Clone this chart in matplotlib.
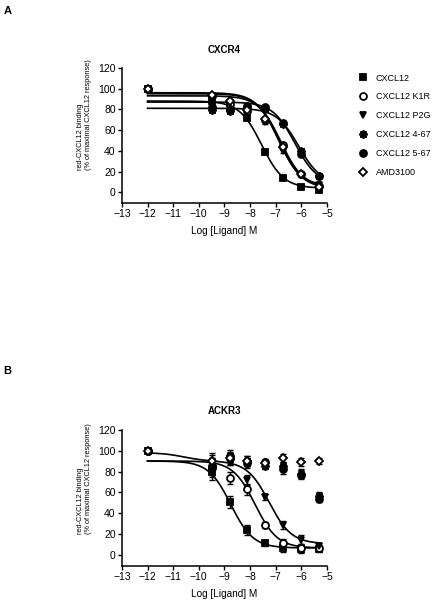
import numpy as np
import matplotlib
matplotlib.use("Agg")
import matplotlib.pyplot as plt

plt.rcParams['font.family'] = ['Liberation Sans', 'DejaVu Sans']

# log concentrations used in both assays
conc = [-12, -9.5, -8.8, -8.1, -7.4, -6.7, -6.0, -5.3]

names = ['CXCL12', 'CXCL12 K1R', 'CXCL12 P2G', 'CXCL12 4-67', 'CXCL12 5-67', 'AMD3100']

# CXCR4 binding (% of maximal response)
cxcr4_cxcl12 = [100, 88, 86, 72, 39, 14, 5, 2]
cxcr4_k1r = [100, 93, 85, 78, 70, 46, 18, 6]
cxcr4_p2g = [100, 90, 86, 80, 68, 40, 17, 7]
cxcr4_467 = [100, 79, 78, 82, 80, 66, 40, 16]
cxcr4_567 = [100, 82, 80, 83, 82, 67, 37, 16]
cxcr4_amd = [100, 94, 88, 79, 71, 44, 18, 5]
cxcr4_err = [1, 2, 2, 2, 2, 2, 2, 1]

# ACKR3 binding (% of maximal response)
ackr3_cxcl12 = [100, 80, 51, 24, 12, 7, 6, 6]
ackr3_k1r = [100, 85, 74, 63, 29, 12, 7, 7]
ackr3_p2g = [100, 88, 92, 72, 56, 29, 15, 9]
ackr3_467 = [100, 85, 92, 90, 85, 85, 78, 57]
ackr3_567 = [100, 83, 95, 88, 89, 82, 77, 54]
ackr3_amd = [100, 90, 93, 90, 88, 93, 89, 90]
ackr3_err = [1, 8, 6, 5, 3, 4, 4, 3]

# fitted curves: bottom, span, logIC50, hill, span2, logIC50_2
cxcr4_fits = [[4, 84, -7.55, 1.0, 0, 0],
              [5, 88, -6.8, 1.0, 0, 0],
              [6, 90, -6.9, 1.0, 0, 0],
              [8, 73, -6.1, 1.0, 0, 0],
              [8, 79, -6.25, 1.0, 0, 0],
              [4, 91, -6.85, 1.0, 0, 0]]
ackr3_fits = [[7, 83, -8.75, 1.0, 0, 0],
              [7, 83, -7.8, 1.0, 0, 0],
              [11, 79, -7.25, 1.0, 8, -10.6],
              None, None, None]

markers = ['s', 'o', 'v', (8, 2, 0), 'o', 'D']
faces = ['black', 'white', 'black', 'black', 'black', 'white']
msizes = [4.5, 5, 5, 6, 5, 4]


def curve(p, x):
    y = p[0] + p[1] / (1 + 10 ** ((x - p[2]) * p[3]))
    if p[4]:
        y = y + p[4] / (1 + 10 ** (x - p[5]))
    return y


def panel(ax, title, series, err, fits, label_y):
    xx = np.linspace(-12, -5.3, 300)
    for p in fits:
        if p is not None:
            ax.plot(xx, curve(p, xx), color='black', lw=1.2, zorder=2)
    for i, ys in enumerate(series):
        ax.errorbar(conc, ys, yerr=err, fmt='none', ecolor='black',
                    elinewidth=1, capsize=2.5, capthick=1, zorder=3)
        ax.plot(conc, ys, linestyle='none', marker=markers[i], ms=msizes[i],
                mfc=faces[i], mec='black', mew=1.3, color='black',
                label=names[i], zorder=4)
    ax.set_xlim(-13, -5)
    ax.set_ylim(-10, 120)
    ax.set_xticks(range(-13, -4))
    ax.set_yticks(range(0, 121, 20))
    ax.spines['top'].set_visible(False)
    ax.spines['right'].set_visible(False)
    ax.spines['left'].set_linewidth(1.1)
    ax.spines['bottom'].set_linewidth(1.1)
    ax.tick_params(direction='out', length=3, width=1, labelsize=7.5, pad=1.5)
    ax.set_title(title, fontsize=7, fontweight='bold', pad=11)
    ax.set_xlabel('Log [Ligand] M', fontsize=7.2, labelpad=5)
    ax.text(-0.183, label_y, 'red-CXCL12 binding\n(% of maximal CXCL12 response)',
            transform=ax.transAxes, rotation=90, ha='center', va='bottom',
            multialignment='left', fontsize=5.3, linespacing=1.3)


fig = plt.figure(figsize=(4.37, 6.0), dpi=100)
ax1 = fig.add_axes([0.279, 0.662, 0.469, 0.225])
ax2 = fig.add_axes([0.279, 0.057, 0.469, 0.227])

panel(ax1, 'CXCR4', [cxcr4_cxcl12, cxcr4_k1r, cxcr4_p2g, cxcr4_467, cxcr4_567, cxcr4_amd],
      cxcr4_err, cxcr4_fits, 0.244)
panel(ax2, 'ACKR3', [ackr3_cxcl12, ackr3_k1r, ackr3_p2g, ackr3_467, ackr3_567, ackr3_amd],
      ackr3_err, ackr3_fits, 0.235)

ax1.legend(loc='upper left', bbox_to_anchor=(0.81, 0.885), bbox_transform=fig.transFigure,
           frameon=False, fontsize=6.5, handlelength=1.0, handletextpad=0.9,
           labelspacing=1.1, borderpad=0)

fig.text(0.008, 0.99, 'A', fontsize=8, fontweight='bold', va='top')
fig.text(0.008, 0.39, 'B', fontsize=8, fontweight='bold', va='top')

fig.savefig('out.png', dpi=100)
